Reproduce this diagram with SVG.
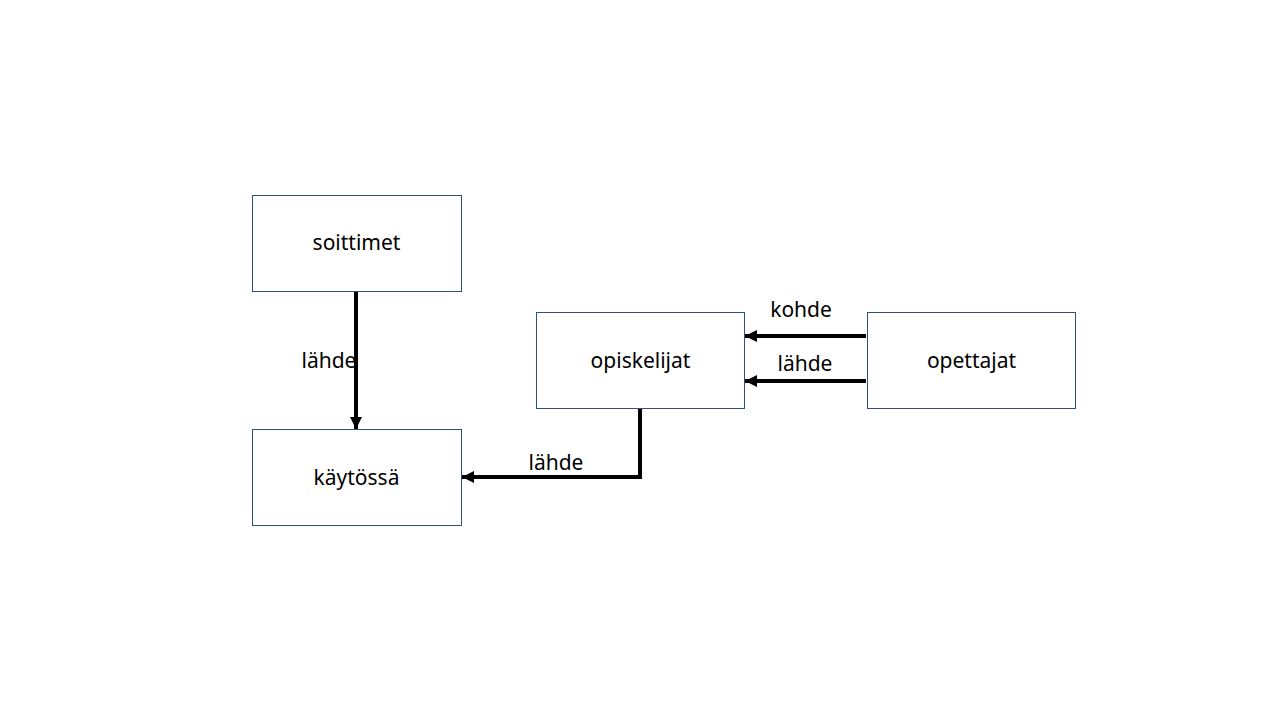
<svg xmlns="http://www.w3.org/2000/svg" width="1280" height="720" viewBox="0 0 1280 720">
<style>
.box{fill:#fff;stroke:#2F4F80;stroke-width:1}
.t{font-family:"Noto Sans","Open Sans",sans-serif;font-size:21px;fill:#000;text-anchor:middle}
.c{fill:none;stroke:#000;stroke-width:4}
</style>
<defs>
<marker id="ah" viewBox="0 0 10 10" refX="10" refY="5" markerWidth="3" markerHeight="3" orient="auto" markerUnits="strokeWidth">
<path d="M0,0 L10,5 L0,10 z" fill="#000"/>
</marker>
</defs>
<rect width="1280" height="720" fill="#fff"/>
<g id="soittimet"><rect class="box" x="252.5" y="195.5" width="209" height="96"/><text class="t" x="356.5" y="250">soittimet</text></g>
<g id="kaytossa"><rect class="box" x="252.5" y="429.5" width="209" height="96"/><text class="t" x="356.5" y="485">käytössä</text></g>
<g id="opiskelijat"><rect class="box" x="536.5" y="312.5" width="208" height="96"/><text class="t" x="640.5" y="368">opiskelijat</text></g>
<g id="opettajat"><rect class="box" x="867.5" y="312.5" width="208" height="96"/><text class="t" x="971.5" y="368">opettajat</text></g>
<g id="connectors">
<path class="c" d="M356,292 L356,429" marker-end="url(#ah)"/>
<path class="c" d="M640,409 L640,477 L462,477" marker-end="url(#ah)"/>
<path class="c" d="M866,336 L745,336" marker-end="url(#ah)"/>
<path class="c" d="M866,381 L745,381" marker-end="url(#ah)"/>
<text class="t" x="329" y="368">lähde</text>
<text class="t" x="556" y="470">lähde</text>
<text class="t" x="801" y="317">kohde</text>
<text class="t" x="805" y="371">lähde</text>
</g>
</svg>
